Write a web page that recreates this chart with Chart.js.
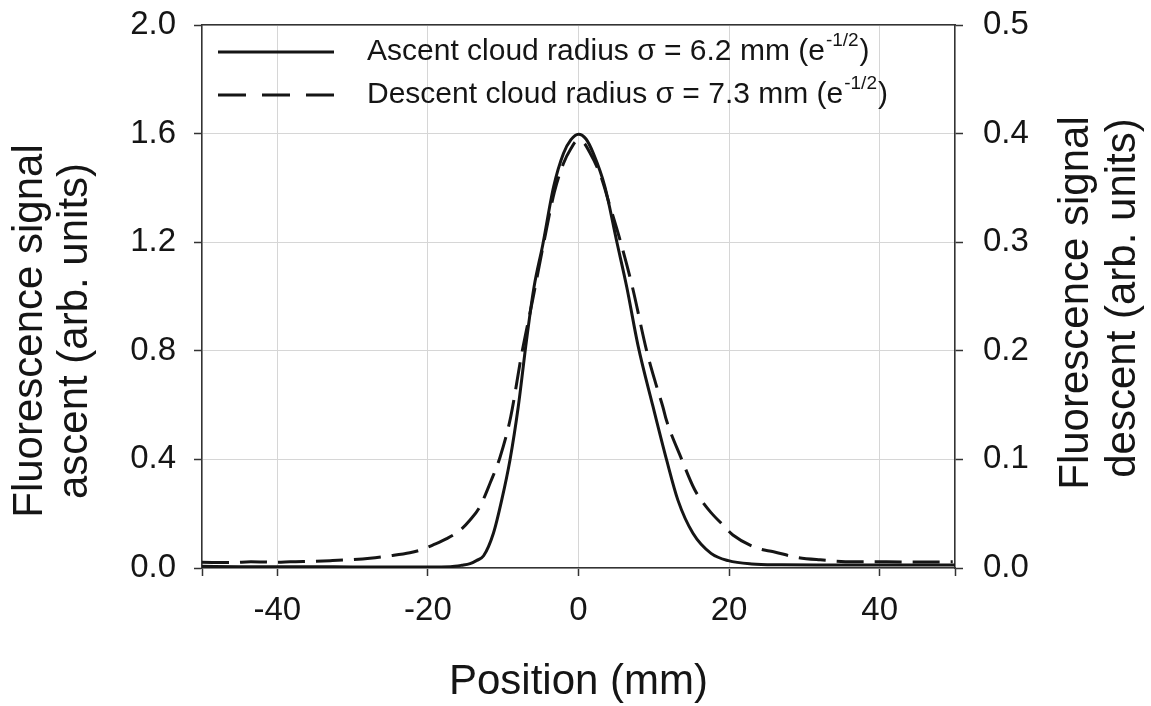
<!DOCTYPE html>
<html>
<head>
<meta charset="utf-8">
<script src="https://cdn.jsdelivr.net/npm/chart.js@4.4.0/dist/chart.umd.min.js"></script>
<style>
  html, body { margin: 0; padding: 0; background: #fff; }
</style>
</head>
<body>
<canvas id="plot" width="1151" height="706"></canvas>
<script>
// posicion (mm) y señal de fluorescencia
const ascentX = [-50, -45, -40, -35, -30, -25, -20, -17, -15.5, -14.4, -13.5, -12.6, -11.3, -10.2, -9.1, -8.0, -6.9, -5.9, -4.75, -3.3, -2.0, -1.0, 0, 1.0, 1.97, 3.5, 5.1, 6.4, 7.9, 9.9, 11.7, 13.2, 15.2, 17.6, 19.9, 23, 27, 32, 38, 44, 50];
const ascentY = [0.006, 0.005, 0.005, 0.005, 0.004, 0.004, 0.004, 0.005, 0.010, 0.016, 0.028, 0.045, 0.128, 0.25, 0.398, 0.594, 0.84, 1.036, 1.19, 1.405, 1.527, 1.578, 1.598, 1.58, 1.527, 1.405, 1.2, 1.036, 0.82, 0.594, 0.398, 0.25, 0.128, 0.054, 0.027, 0.015, 0.012, 0.011, 0.011, 0.011, 0.011];

// descenso, en unidades del eje derecho
const descentX = [-50, -46, -43.5, -40, -38.3, -35, -33, -30, -27.7, -25, -22.4, -21, -19.3, -17.5, -15.7, -14.4, -13.1, -11.75, -10.4, -9.0, -7.6, -6.0, -4.6, -3.2, -2.0, -1.0, -0.25, 0.5, 1.5, 3.0, 4.1, 5.6, 7.15, 9.05, 10.25, 11.2, 11.67, 13.65, 15.4, 16.3, 17.6, 19.2, 20.5, 23.8, 25.9, 29, 32.1, 36.5, 40.9, 45, 49.7];
const descentY = [0.00525, 0.005, 0.00575, 0.00525, 0.00575, 0.00625, 0.00675, 0.00775, 0.009, 0.01125, 0.014, 0.0165, 0.02125, 0.027, 0.035, 0.04425, 0.0565, 0.078, 0.1025, 0.13925, 0.195, 0.25, 0.30, 0.34625, 0.3725, 0.38625, 0.393, 0.3925, 0.3825, 0.36, 0.335, 0.30, 0.259, 0.20, 0.17, 0.1485, 0.13625, 0.101, 0.0725, 0.0625, 0.051, 0.0395, 0.030375, 0.018125, 0.015, 0.00975, 0.0075, 0.00575, 0.00575, 0.0055, 0.00575];

const xTicks = [-50, -40, -20, 0, 20, 40, 50];
const yTicks = [0, 0.4, 0.8, 1.2, 1.6, 2.0];
const y1Ticks = [0, 0.1, 0.2, 0.3, 0.4, 0.5];

const FAMILY = '"Liberation Sans", Arial, sans-serif';
const INK = '#151515';
const AXIS = '#333333';
const GRID = '#d6d6d6';

let toPoints = (xs, ys) => xs.map((x, i) => ({ x: x, y: ys[i] }));

// sin relleno extra por las etiquetas: el area queda fija
let noPad = s => { s.paddingTop = 0; s.paddingBottom = 0; s.paddingLeft = 0; s.paddingRight = 0; };

// titulos de ejes (leidos de abajo hacia arriba) y leyenda dentro del area
let drawRotated = (ctx, text, x, y) => {
  ctx.save();
  ctx.translate(x, y);
  ctx.rotate(-Math.PI / 2);
  ctx.fillText(text, 0, 0);
  ctx.restore();
};

const extras = {
  id: 'extras',
  afterDraw(chart) {
    const ctx = chart.ctx;
    ctx.save();
    ctx.fillStyle = INK;
    ctx.textAlign = 'center';
    ctx.textBaseline = 'alphabetic';
    ctx.font = '42px ' + FAMILY;
    drawRotated(ctx, 'Fluorescence signal', 42, 331);
    drawRotated(ctx, 'ascent (arb. units)', 87, 331);
    drawRotated(ctx, 'Fluorescence signal', 1088, 303);
    drawRotated(ctx, 'descent (arb. units)', 1135, 298);

    // leyenda
    const rows = [
      { ds: chart.data.datasets[0], dash: [], main: 'Ascent cloud radius \u03c3 = 6.2 mm (e', y: 52 },
      { ds: chart.data.datasets[1], dash: [28, 16], main: 'Descent cloud radius \u03c3 = 7.3 mm (e', y: 95 }
    ];
    ctx.textAlign = 'left';
    ctx.textBaseline = 'middle';
    rows.forEach(r => {
      ctx.strokeStyle = r.ds.borderColor;
      ctx.lineWidth = r.ds.borderWidth;
      ctx.setLineDash(r.dash);
      ctx.beginPath();
      ctx.moveTo(218, r.y);
      ctx.lineTo(334, r.y);
      ctx.stroke();

      let x = 367;
      ctx.font = '30px ' + FAMILY;
      ctx.fillText(r.main, x, r.y);
      x += ctx.measureText(r.main).width + 1;
      ctx.font = '19px ' + FAMILY;
      ctx.fillText('-1/2', x, r.y - 11);
      x += ctx.measureText('-1/2').width + 1;
      ctx.font = '30px ' + FAMILY;
      ctx.fillText(')', x, r.y);
    });
    ctx.restore();
  }
};

let tickFont = { family: FAMILY, size: 33 };

let config = {
  type: 'scatter',
  data: {
    datasets: [
      {
        label: 'Ascent cloud radius \u03c3 = 6.2 mm (e-1/2)',
        data: toPoints(ascentX, ascentY),
        showLine: true,
        borderColor: INK,
        borderWidth: 3,
        pointRadius: 0,
        cubicInterpolationMode: 'monotone',
        yAxisID: 'y'
      },
      {
        label: 'Descent cloud radius \u03c3 = 7.3 mm (e-1/2)',
        data: toPoints(descentX, descentY),
        showLine: true,
        borderColor: INK,
        borderWidth: 3,
        borderDash: [27, 11],
        pointRadius: 0,
        cubicInterpolationMode: 'monotone',
        yAxisID: 'y1'
      }
    ]
  },
  options: {
    responsive: false,
    animation: false,
    layout: { padding: 0 },
    plugins: {
      legend: { display: false },
      tooltip: { enabled: false }
    },
    scales: {
      x: {
        type: 'linear',
        position: 'bottom',
        min: -50,
        max: 50,
        afterBuildTicks: s => { s.ticks = xTicks.map(v => ({ value: v })); },
        afterFit: s => { s.height = 138; noPad(s); },
        ticks: {
          font: tickFont,
          color: INK,
          padding: 15,
          maxRotation: 0,
          autoSkip: false,
          callback: v => (Math.abs(v) === 50 ? '' : String(v))
        },
        grid: { color: GRID, lineWidth: 1, tickColor: AXIS, tickLength: 8, tickWidth: 1.5 },
        border: { color: AXIS, width: 1.5 },
        title: {
          display: true,
          text: 'Position (mm)',
          color: INK,
          font: { family: FAMILY, size: 42, lineHeight: 1.1 },
          padding: { top: 0, bottom: 0 }
        }
      },
      xTop: {
        type: 'linear',
        position: 'top',
        min: -50,
        max: 50,
        afterFit: s => { s.height = 25; noPad(s); },
        ticks: { display: false },
        grid: { display: false },
        border: { color: AXIS, width: 1.5 }
      },
      y: {
        type: 'linear',
        position: 'left',
        min: 0,
        max: 2,
        afterBuildTicks: s => { s.ticks = yTicks.map(v => ({ value: v })); },
        afterFit: s => { s.width = 202; noPad(s); },
        ticks: { font: tickFont, color: INK, padding: 18, callback: v => v.toFixed(1) },
        grid: { color: GRID, lineWidth: 1, tickColor: AXIS, tickLength: 8, tickWidth: 1.5 },
        border: { color: AXIS, width: 1.5 }
      },
      y1: {
        type: 'linear',
        position: 'right',
        min: 0,
        max: 0.5,
        afterBuildTicks: s => { s.ticks = y1Ticks.map(v => ({ value: v })); },
        afterFit: s => { s.width = 196; noPad(s); },
        ticks: { font: tickFont, color: INK, padding: 20, callback: v => v.toFixed(1) },
        grid: { drawOnChartArea: false, tickColor: AXIS, tickLength: 8, tickWidth: 1.5 },
        border: { color: AXIS, width: 1.5 }
      }
    }
  },
  plugins: [extras]
};

let chart = new Chart(document.getElementById('plot'), config);
</script>
</body>
</html>
